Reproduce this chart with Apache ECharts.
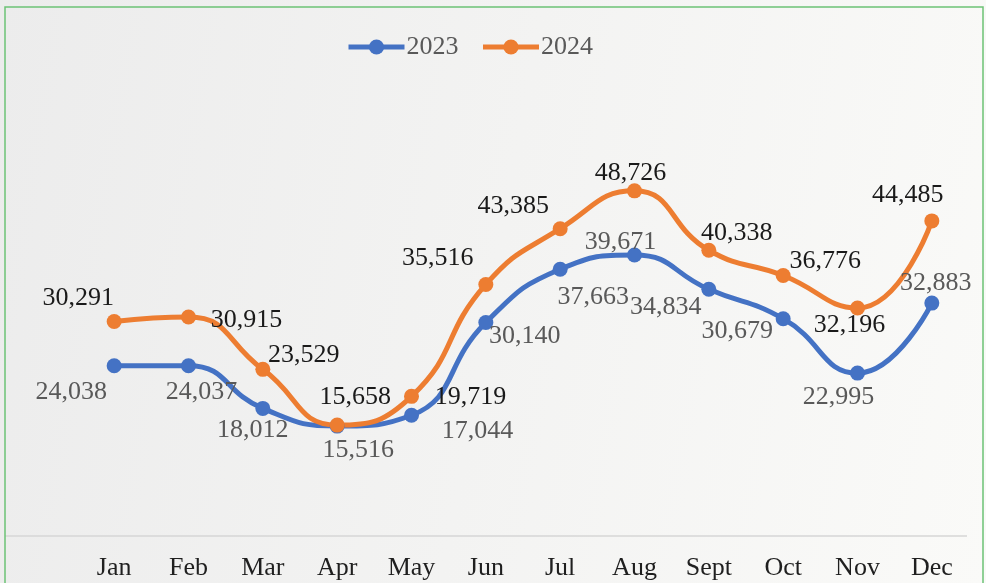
<!DOCTYPE html>
<html>
<head>
	<meta charset="UTF-8">
	<title>2023 vs 2024</title>
	<style type="text/css">
		html,body{
			padding: 0;
			margin: 0;
		}
		#main,html,body{
			width: 100%;
			height: 100%;
			overflow: hidden;
		}
		body{
			background: linear-gradient(100deg, #ececec 0%, #f3f3f2 50%, #fafaf8 100%);
		}
	</style>
</head>
<body>
	<div id="main"></div>
</body>
<script type="text/javascript" src="https://cdn.jsdelivr.net/npm/echarts@6/dist/echarts.min.js"></script>
<script type="text/javascript">
	var months = ['Jan', 'Feb', 'Mar', 'Apr', 'May', 'Jun', 'Jul', 'Aug', 'Sept', 'Oct', 'Nov', 'Dec'];
	var values2023 = [24038, 24037, 18012, 15516, 17044, 30140, 37663, 39671, 34834, 30679, 22995, 32883];
	var values2024 = [30291, 30915, 23529, 15658, 19719, 35516, 43385, 48726, 40338, 36776, 32196, 44485];

	// where each value label sits, relative to its point
	var offsets2023 = [[-43, 26], [13, 26], [-10, 22], [21, 24], [66, 16], [39, 14], [33, 28], [-14, -13], [-43, 18], [-46, 12], [-19, 24], [4, -20]];
	var offsets2024 = [[-36, -23], [58, 3], [41, -14], [18, -28], [59, 1], [-48, -26], [-47, -23], [-4, -18], [28, -17], [42, -14], [-8, 17], [-24, -26]];

	var font = "'Liberation Serif', 'Times New Roman', serif";

	function withLabels(values, offsets) {
		return values.map(function (v, i) {
			return {
				value: v,
				label: { offset: offsets[i] }
			};
		});
	}

	function lineSeries(name, values, offsets, color, textColor) {
		return {
			name: name,
			type: 'line',
			smooth: 0.5,
			symbol: 'circle',
			symbolSize: 15,
			lineStyle: { width: 5, color: color },
			itemStyle: { color: color },
			label: {
				show: true,
				position: 'inside',
				align: 'center',
				verticalAlign: 'middle',
				fontFamily: font,
				fontSize: 26,
				color: textColor,
				formatter: function (p) { return p.value.toLocaleString('en-US'); }
			},
			data: withLabels(values, offsets)
		};
	}

	var myChart = echarts.init(document.getElementById('main'));
	myChart.setOption({
		animation: false,
		backgroundColor: 'transparent',
		graphic: [
			{
				type: 'rect',
				shape: { x: 5, y: 7, width: 978, height: 620 },
				style: { fill: 'none', stroke: '#6cc276', lineWidth: 1.5 },
				z: 100
			},
			{
				type: 'line',
				shape: { x1: 5, y1: 536, x2: 967, y2: 536 },
				style: { stroke: '#d6d6d6', lineWidth: 1.5 },
				z: 1
			}
		],
		legend: {
			left: 341,
			top: 29,
			itemWidth: 56,
			itemHeight: 19,
			itemGap: 22,
			lineStyle: { width: 5 },
			textStyle: { fontFamily: font, fontSize: 26, color: '#595959', padding: [0, 0, 0, -3] },
			data: ['2023', '2024']
		},
		grid: {
			left: 77,
			right: 17,
			top: 111,
			bottom: 47
		},
		xAxis: {
			type: 'category',
			data: months,
			boundaryGap: true,
			axisLine: { show: false },
			axisTick: { show: false },
			axisLabel: { fontFamily: font, fontSize: 26, color: '#1f1f1f', margin: 19 }
		},
		yAxis: {
			type: 'value',
			min: 0,
			max: 60000,
			show: false,
			splitLine: { show: false }
		},
		series: [
			lineSeries('2023', values2023, offsets2023, '#4472c4', '#595959'),
			lineSeries('2024', values2024, offsets2024, '#ed7d31', '#1a1a1a')
		]
	});
</script>
</html>
